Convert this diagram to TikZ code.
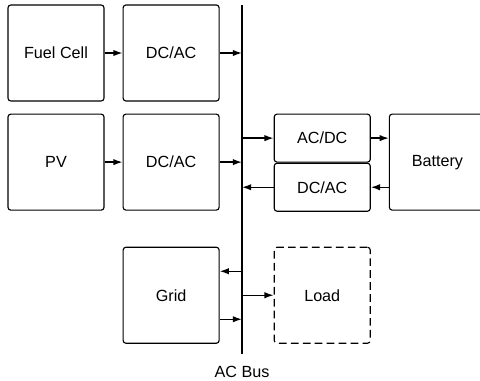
\documentclass[tikz,border=0pt]{standalone}
\usepackage{fontspec}
\setmainfont{Liberation Sans}
\usetikzlibrary{arrows.meta,positioning}
\tikzstyle{blk}=[rectangle,draw,rounded corners=2pt,line width=0.8pt,align=center,minimum width=2.4cm,minimum height=2.4cm,font=\fontsize{11.5}{13}\selectfont]
\tikzstyle{half}=[blk,minimum height=1.2cm]
\tikzstyle{arr}=[-{Latex[length=2.3mm,width=1.6mm]},line width=1pt]
\tikzstyle{bus}=[line width=1.4pt]

\begin{document}
\begin{tikzpicture}
\useasboundingbox (0,0) rectangle (12,-9.525);
\node[blk] (fc) at (1.4,-1.325) {Fuel Cell};
\node[blk, right=0.45cm of fc] (inv1) {DC/AC};
\node[blk, below=0.3cm of fc] (pv) {PV};
\node[blk, right=0.45cm of pv] (inv2) {DC/AC};
\node[half, anchor=north west] (rect) at ([xshift=1.35cm]inv2.north east) {AC/DC};
\node[half, below=0cm of rect] (inv3) {DC/AC};
\node[blk, anchor=north west] (bat) at ([xshift=0.45cm]rect.north east) {Battery};
\node[blk, below=0.9cm of inv2] (grid) {Grid};
\node[blk, dashed, dash pattern=on 5.5pt off 3pt, right=1.35cm of grid] (load) {Load};
\coordinate (bustop) at (6.05,-0.125);
\coordinate (busbot) at (6.05,-8.85);
\node[font=\fontsize{11.5}{13}\selectfont, below=0.18cm of busbot] (buslbl) {AC Bus};
\draw[bus] (bustop) -- (busbot);
\draw[arr] (fc) -- (inv1);
\draw[arr] (pv) -- (inv2);
\draw[arr] (inv1.east) -- (inv1.east -| bustop);
\draw[arr] (inv2.east) -- (inv2.east -| bustop);
\draw[arr] (rect.west -| bustop) -- (rect.west);
\draw[arr] (inv3.west) -- (inv3.west -| bustop);
\draw[arr] (rect) -- (rect -| bat.west);
\draw[arr] (inv3 -| bat.west) -- (inv3);
\draw[arr] ([yshift=0.6cm]grid.east -| bustop) -- ([yshift=0.6cm]grid.east);
\draw[arr] ([yshift=-0.6cm]grid.east) -- ([yshift=-0.6cm]grid.east -| bustop);
\draw[arr] (load.west -| bustop) -- (load.west);
\end{tikzpicture}
\end{document}
